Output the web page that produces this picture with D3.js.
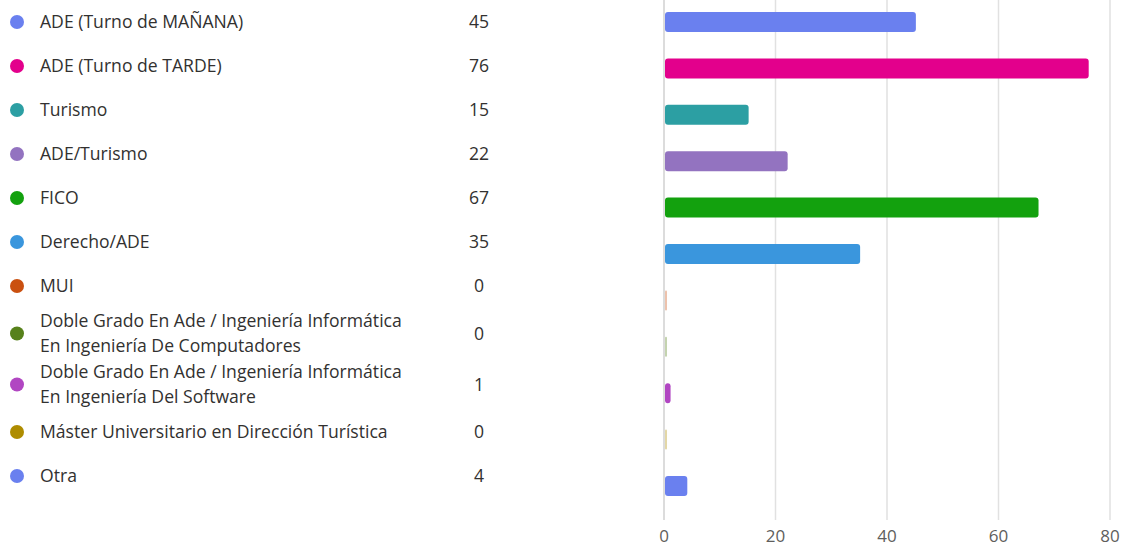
<!DOCTYPE html>
<html>
<head>
<meta charset="utf-8">
<script src="https://cdn.jsdelivr.net/npm/d3@7"></script>
<style>
  html, body { margin: 0; padding: 0; background: #fff; }
  svg { display: block; font-family: "Open Sans", "Noto Sans", sans-serif; }
</style>
</head>
<body>
<svg id="chart" width="1123" height="549"></svg>
<script>
const categories = [
  ["ADE (Turno de MAÑANA)"],
  ["ADE (Turno de TARDE)"],
  ["Turismo"],
  ["ADE/Turismo"],
  ["FICO"],
  ["Derecho/ADE"],
  ["MUI"],
  ["Doble Grado En Ade / Ingeniería Informática", "En Ingeniería De Computadores"],
  ["Doble Grado En Ade / Ingeniería Informática", "En Ingeniería Del Software"],
  ["Máster Universitario en Dirección Turística"],
  ["Otra"]
];
const values = [45, 76, 15, 22, 67, 35, 0, 0, 1, 0, 4];
const colors = ["#6a80ef", "#e3008c", "#2c9fa3", "#9373c0", "#13a10e", "#3a96dd",
                "#ca5010", "#57811b", "#b146c2", "#ae8c00", "#6a80ef"];
const xTicks = [0, 20, 40, 60, 80];

const svg = d3.select("#chart");
const ids = categories.map((c, i) => i);

// Legend layout (rows with 1 or 2 lines)
const singleH = 44, doubleH = 51;
let legendY = [];
let cur = 22 - singleH / 2;
categories.forEach(c => {
  const h = c.length > 1 ? doubleH : singleH;
  legendY.push(cur + h / 2);
  cur += h;
});

const legend = svg.append("g");
const rows = legend.selectAll("g.row").data(ids).enter().append("g")
  .attr("class", "row")
  .attr("transform", i => `translate(0,${legendY[i]})`);

rows.append("circle").attr("cx", 17).attr("cy", 0).attr("r", 7)
  .attr("fill", i => colors[i]);

rows.each(function(i) {
  const g = d3.select(this);
  const lines = categories[i];
  const lh = 25;
  const t = g.append("text").attr("fill", "#323130").attr("font-size", 17.6);
  lines.forEach((ln, k) => {
    t.append("tspan").attr("x", 40)
      .attr("y", (k - (lines.length - 1) / 2) * lh)
      .attr("dy", "0.35em").text(ln);
  });
  g.append("text").attr("x", 479).attr("y", 0).attr("dy", "0.35em")
    .attr("text-anchor", "middle").attr("fill", "#323130").attr("font-size", 17.6)
    .text(values[i]);
});

// Bars
const x = d3.scaleLinear().domain([0, 80]).range([664, 1110]);
const y = d3.scalePoint().domain(ids).range([22, 486]);
const barH = 20;

svg.append("g").selectAll("line").data(xTicks).enter().append("line")
  .attr("x1", d => x(d)).attr("x2", d => x(d))
  .attr("y1", 0).attr("y2", 520)
  .attr("stroke", d => d === 0 ? "#d0d0d0" : "#e1e1e1").attr("stroke-width", 1.5);

svg.append("g").selectAll("text").data(xTicks).enter().append("text")
  .attr("x", d => x(d)).attr("y", 536).attr("dy", "0.35em")
  .attr("text-anchor", "middle").attr("fill", "#605e5c").attr("font-size", 17)
  .text(d => d);

svg.append("g").selectAll("rect").data(ids).enter().append("rect")
  .attr("x", x(0) + 1)
  .attr("y", i => y(i) - barH / 2)
  .attr("width", i => values[i] === 0 ? 2 : x(values[i]) - x(0))
  .attr("height", barH)
  .attr("rx", i => values[i] === 0 ? 1 : 3)
  .attr("fill", i => colors[i])
  .attr("fill-opacity", i => values[i] === 0 ? 0.35 : 1);
</script>
</body>
</html>
